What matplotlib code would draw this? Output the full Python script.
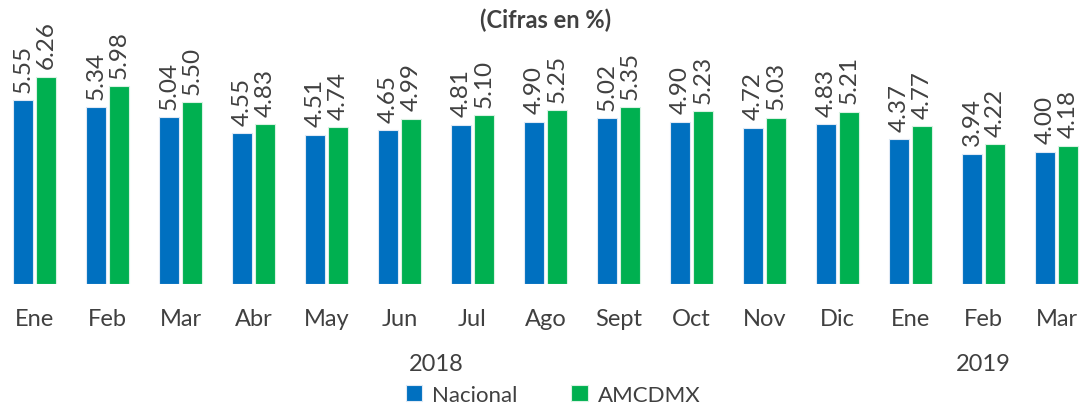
import matplotlib
matplotlib.use("Agg")
import matplotlib.pyplot as plt
import numpy as np

plt.rcParams['font.family'] = ['Lato', 'DejaVu Sans']

months = ["Ene", "Feb", "Mar", "Abr", "May", "Jun", "Jul", "Ago", "Sept", "Oct", "Nov", "Dic", "Ene", "Feb", "Mar"]
nacional = [5.55, 5.34, 5.04, 4.55, 4.51, 4.65, 4.81, 4.90, 5.02, 4.90, 4.72, 4.83, 4.37, 3.94, 4.00]
amcdmx = [6.26, 5.98, 5.50, 4.83, 4.74, 4.99, 5.10, 5.25, 5.35, 5.23, 5.03, 5.21, 4.77, 4.22, 4.18]
years = ["2018", "2019"]
year_pos = [5.5, 13]
title = "(Cifras en %)"

BLUE = "#0070C0"
GREEN = "#00B050"
TXT = "#404040"

W, H = 1080, 406
fig = plt.figure(figsize=(W / 100, H / 100), dpi=100)
base_px = 285
ax = fig.add_axes([0, (H - base_px) / H, 1, base_px / H])
px_per_unit = 33.1
ax.set_ylim(0, base_px / px_per_unit)
spacing = 73.0
c0 = 34.5
ax.set_xlim(-c0 / spacing, (W - c0) / spacing)

x = np.arange(len(months))
bw = 0.275
off = 0.157
b1 = ax.bar(x - off, nacional, bw, color=BLUE, edgecolor="#dfe9f5", linewidth=0.8, label="Nacional")
b2 = ax.bar(x + off, amcdmx, bw, color=GREEN, edgecolor="#d9f2e2", linewidth=0.8, label="AMCDMX")

for bars, vals in ((b1, nacional), (b2, amcdmx)):
    for r, v in zip(bars, vals):
        ax.annotate(f"{v:.2f}", (r.get_x() + r.get_width() / 2, v), xytext=(0, 6),
                    textcoords="offset points", rotation=90, ha="center", va="bottom",
                    fontsize=17.5, color=TXT)

ax.set_xticks(x)
ax.set_xticklabels(months, fontsize=17, color=TXT)
ax.tick_params(axis="x", length=0, pad=17)
ax.set_yticks([])
for s in ax.spines.values():
    s.set_visible(False)

for yl, yp in zip(years, year_pos):
    ax.text(yp, -80 / px_per_unit, yl, ha="center", va="center", fontsize=17, color=TXT)

fig.text(546 / W, 1 - 20 / H, title, ha="center", va="center", fontsize=17, fontweight="bold", color=TXT)

leg = fig.legend(handles=[b1, b2], labels=["Nacional", "AMCDMX"], loc="center",
                 bbox_to_anchor=(553 / W, 1 - 396 / H), ncol=2, frameon=False,
                 fontsize=16, handlelength=0.75, handleheight=0.75, handletextpad=0.45,
                 columnspacing=2.4, labelcolor=TXT, borderpad=0)

fig.savefig("out.png", dpi=100)
